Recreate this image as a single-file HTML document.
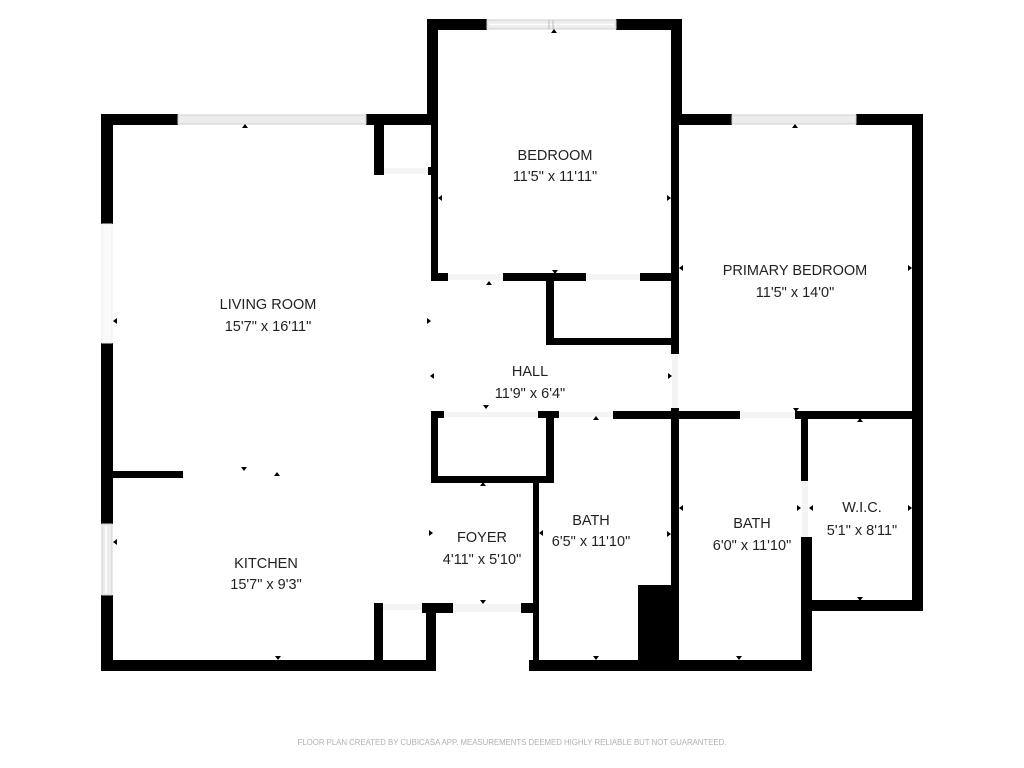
<!DOCTYPE html>
<html><head><meta charset="utf-8"><style>
html,body{margin:0;padding:0;background:#fff;}
svg{display:block;}
text{font-family:"Liberation Sans",sans-serif;fill:#222;text-anchor:middle;}
.t{font-size:14.5px;}
</style></head><body>
<svg width="1024" height="768" viewBox="0 0 1024 768" xmlns="http://www.w3.org/2000/svg">
<rect width="1024" height="768" fill="#fff"/>
<g fill="#000">
<rect x="101" y="114" width="77" height="11"/>
<rect x="366" y="114" width="65" height="11"/>
<rect x="101" y="114" width="12" height="110"/>
<rect x="101" y="343" width="12" height="181"/>
<rect x="101" y="595" width="12" height="76"/>
<rect x="101" y="660" width="335" height="11"/>
<rect x="113" y="471" width="70" height="7"/>
<rect x="374" y="125" width="10" height="50"/>
<rect x="374" y="167" width="10" height="8"/>
<rect x="428" y="167" width="3" height="8"/>
<rect x="427" y="19" width="60" height="11"/>
<rect x="616" y="19" width="66" height="11"/>
<rect x="427" y="19" width="11" height="106"/>
<rect x="431" y="125" width="7" height="156"/>
<rect x="671" y="19" width="11" height="106"/>
<rect x="671" y="125" width="8" height="229"/>
<rect x="431" y="273" width="17" height="8"/>
<rect x="503" y="273" width="83" height="8"/>
<rect x="640" y="273" width="31" height="8"/>
<rect x="546" y="281" width="8" height="64"/>
<rect x="546" y="338" width="125" height="7"/>
<rect x="682" y="114" width="50" height="11"/>
<rect x="856" y="114" width="67" height="11"/>
<rect x="912" y="114" width="11" height="497"/>
<rect x="671" y="408" width="8" height="263"/>
<rect x="613" y="411" width="127" height="8"/>
<rect x="795" y="411" width="128" height="8"/>
<rect x="801" y="419" width="7" height="62"/>
<rect x="801" y="537" width="11" height="134"/>
<rect x="808" y="600" width="115" height="11"/>
<rect x="431" y="411" width="13" height="7"/>
<rect x="538" y="411" width="21" height="7"/>
<rect x="431" y="411" width="7" height="72"/>
<rect x="546" y="418" width="8" height="65"/>
<rect x="431" y="476" width="123" height="7"/>
<rect x="533" y="483" width="6" height="188"/>
<rect x="529" y="660" width="283" height="11"/>
<rect x="638" y="585" width="41" height="76"/>
<rect x="374" y="603" width="9" height="57"/>
<rect x="374" y="603" width="9" height="7"/>
<rect x="422" y="603" width="31" height="10"/>
<rect x="426" y="613" width="10" height="58"/>
<rect x="521" y="603" width="12" height="10"/>
</g>
<g fill="#ececec" stroke="#d0d0d0" stroke-width="1">
<rect x="178" y="115" width="188" height="9"/>
<rect x="487" y="20" width="129" height="9"/>
<rect x="732" y="115" width="124" height="9"/>
<rect x="102" y="524" width="10" height="71"/>
<rect x="102" y="224" width="10" height="119" fill="#fafafa" stroke="#eee"/>
</g>
<g stroke="#fff" stroke-width="1.5">
<line x1="489" y1="24.5" x2="614" y2="24.5"/>
<line x1="106" y1="526" x2="106" y2="593"/>
</g>
<g stroke="#bbb" stroke-width="1">
<line x1="549" y1="20" x2="549" y2="29"/>
<line x1="553" y1="20" x2="553" y2="29"/>
</g>
<g fill="#f4f4f4">
<rect x="384" y="168" width="44" height="6"/>
<rect x="448" y="274" width="55" height="6"/>
<rect x="586" y="274" width="54" height="6"/>
<rect x="444" y="412" width="94" height="5"/>
<rect x="559" y="412" width="54" height="5"/>
<rect x="740" y="412" width="55" height="6"/>
<rect x="383" y="604" width="39" height="6"/>
<rect x="453" y="604" width="68" height="8"/>
<rect x="802" y="481" width="6" height="56"/>
<rect x="672" y="354" width="6" height="54"/>
</g>
<g fill="#000">
<path d="M242 128 l3 -4 l3 4z"/><path d="M551 33 l3 -4 l3 4z"/>
<path d="M792 128 l3 -4 l3 4z"/><path d="M486 285 l3 -4 l3 4z"/>
<path d="M552 270 l3 4 l3 -4z"/><path d="M483 405 l3 4 l3 -4z"/>
<path d="M593 420 l3 -4 l3 4z"/><path d="M793 408 l3 4 l3 -4z"/>
<path d="M857 422 l3 -4 l3 4z"/><path d="M857 597 l3 4 l3 -4z"/>
<path d="M241 467 l3 4 l3 -4z"/><path d="M274 476 l3 -4 l3 4z"/>
<path d="M480 486 l3 -4 l3 4z"/><path d="M480 600 l3 4 l3 -4z"/>
<path d="M275 656 l3 4 l3 -4z"/><path d="M593 656 l3 4 l3 -4z"/>
<path d="M736 656 l3 4 l3 -4z"/>
<path d="M117 318 l-4 3 l4 3z"/><path d="M427 318 l4 3 l-4 3z"/>
<path d="M117 539 l-4 3 l4 3z"/><path d="M442 195 l-4 3 l4 3z"/>
<path d="M667 195 l4 3 l-4 3z"/><path d="M683 265 l-4 3 l4 3z"/>
<path d="M908 265 l4 3 l-4 3z"/><path d="M434 373 l-4 3 l4 3z"/>
<path d="M668 373 l4 3 l-4 3z"/><path d="M429 530 l4 3 l-4 3z"/>
<path d="M543 530 l-4 3 l4 3z"/><path d="M667 531 l4 3 l-4 3z"/>
<path d="M683 505 l-4 3 l4 3z"/><path d="M797 505 l4 3 l-4 3z"/>
<path d="M813 505 l-4 3 l4 3z"/><path d="M908 505 l4 3 l-4 3z"/>
</g>
<text class="t" x="555" y="160">BEDROOM</text>
<text class="t" x="555" y="181">11'5" x 11'11"</text>
<text class="t" x="268" y="309">LIVING ROOM</text>
<text class="t" x="268" y="331">15'7" x 16'11"</text>
<text class="t" x="795" y="275">PRIMARY BEDROOM</text>
<text class="t" x="795" y="297">11'5" x 14'0"</text>
<text class="t" x="530" y="376">HALL</text>
<text class="t" x="530" y="398">11'9" x 6'4"</text>
<text class="t" x="266" y="568">KITCHEN</text>
<text class="t" x="266" y="589">15'7" x 9'3"</text>
<text class="t" x="482" y="542">FOYER</text>
<text class="t" x="482" y="564">4'11" x 5'10"</text>
<text class="t" x="591" y="525">BATH</text>
<text class="t" x="591" y="546">6'5" x 11'10"</text>
<text class="t" x="752" y="528">BATH</text>
<text class="t" x="752" y="550">6'0" x 11'10"</text>
<text class="t" x="862" y="512">W.I.C.</text>
<text class="t" x="862" y="535">5'1" x 8'11"</text>
<text x="512" y="745" style="font-size:7.8px;fill:#b0b0b0;">FLOOR PLAN CREATED BY CUBICASA APP. MEASUREMENTS DEEMED HIGHLY RELIABLE BUT NOT GUARANTEED.</text>
</svg>
</body></html>
